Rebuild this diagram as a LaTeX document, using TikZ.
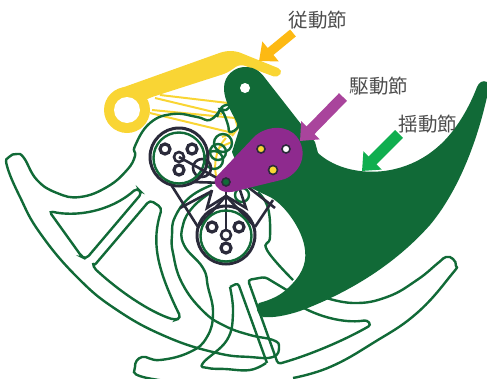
\documentclass[tikz,border=0pt]{standalone}
\usepackage{xcolor}
\usepackage{fontspec}
\setmainfont{Noto Sans CJK JP}
\usetikzlibrary{arrows.meta}
\definecolor{bodygreen}{HTML}{116A37}
\definecolor{leveryellow}{HTML}{F9D534}
\definecolor{crankpurple}{HTML}{8E2A8E}
\definecolor{linkdark}{HTML}{2A2A3A}
\definecolor{arrowyellow}{HTML}{FDB913}
\definecolor{arrowpurple}{HTML}{A9449C}
\definecolor{arrowgreen}{HTML}{10AE4F}

\begin{document}
\begin{tikzpicture}[x=1pt,y=-1pt,
        gline/.style={draw=bodygreen, line width=2.4pt},
        yline/.style={draw=leveryellow, line width=2pt},
        dline/.style={draw=linkdark, line width=2.6pt},
        ring/.style={draw=linkdark, line width=3.2pt, fill=white},
        lbl/.style={inner sep=0pt, text=black!70, font=\fontsize{19.5}{20}\selectfont},
        pointer/.style={line width=11pt, -{Triangle[width=25pt,length=15pt]}}
      ]
  \useasboundingbox (0,0) rectangle (487,378);
  \clip (0,0) rectangle (487,378);

  % follower
  \fill[leveryellow, rounded corners=5pt] (113,91) -- (225,51) -- (236,51) -- (283,70) -- (278,78)
        -- (240,64) -- (227,73) -- (149,98) -- (127,110) -- cycle;
  \fill[leveryellow] (127,110) circle (23);
  \fill[white] (127,110) circle (13);
  \draw[yline] (160,95) -- (228,103);
  \draw[yline] (155,98) -- (222,114);
  \draw[yline] (152,110) -- (235,118);
  \draw[yline] (150,113) -- (233,133);
  \draw[yline] (235,118) -- (238,128) -- (232,136);
  \draw[yline] (226,138) .. controls (214,150) and (212,172) .. (220,188);
  \draw[yline] (222,137) -- (233,133);
  \draw[yline] (220,147) -- (232,142);

  % wheel outlines
  \draw[gline] plot[smooth, tension=0.75] coordinates {(212,185) (190,197) (175,217) (172,235) (173,253)
        (182,283) (203,311) (225,326) (250,335) (273,340) (279,347) (273,357) (250,357) (217,353)
        (167,337) (117,310) (77,277) (40,233) (20,197) (7,166) (9,157) (17,154) (24,158) (37,180)
        (57,193) (80,197) (107,187) (127,170) (135,156) (135,146) (150,123) (173,114) (197,117)
        (210,120) (220,110)};
  \draw[gline] plot[smooth, tension=0.7] coordinates {(217,117) (222,107) (230,105) (226,110) (220,109)
        (224,114) (228,125) (230,132) (238,127) (238,117)};
  \draw[gline, rounded corners=4pt] (49,211) .. controls (75,217) and (110,212) .. (137,188)
        -- (142,193) -- (86,259) -- (82,257) -- cycle;
  \draw[gline, rounded corners=4pt] (93,267) -- (150,200) -- (162,208) .. controls (152,240) and (155,265) .. (181,318)
        -- (175,320) .. controls (150,312) and (120,292) .. (93,267) -- cycle;
  \draw[gline] plot[smooth, tension=0.75] coordinates {(210,193) (193,207) (183,225) (184,245)
        (203,268) (208,287) (213,313) (207,337) (190,352) (160,360) (142,357) (135,367)
        (143,377) (200,385)};
  \draw[gline] plot[smooth, tension=0.7] coordinates {(266,363) (250,370) (225,369) (208,368)
        (203,363) (227,340) (233,313) (230,287)};
  \draw[gline, rounded corners=3pt] (230,287) -- (238,283) -- (267,363);
  \draw[gline, rounded corners=3pt] (290,292) -- (265,277) -- (248,280) -- (278,364)
        .. controls (310,355) and (345,340) .. (371,325) -- (367,320) .. controls (350,323) and (325,320) .. (300,306);
  \draw[gline] plot[smooth, tension=0.75] coordinates {(320,296) (353,303) (387,297) (417,280)
        (438,263) (446,257) (453,259) (456,266) (452,274) (417,313) (373,343) (330,367) (293,378)};
  \draw[gline] plot[smooth, tension=0.75] coordinates {(258,192) (268,208) (270,237) (267,250) (293,280)};
  \foreach \x/\y/\r in {223/143/9, 218/152/8, 242/195/7, 214/160/9} {
    \draw[gline] (\x,\y) circle (\r);
  }

  % links
  \draw[dline] (170,183) -- (198,227);
  \draw[dline] (180,208) -- (212,191);
  \draw[dline] (193,182) -- (226,183);
  \draw[dline] (226,183) -- (226,235);
  \draw[dline] (226,196) -- (198,227);
  \draw[dline] (226,196) -- (255,227);
  \draw[dline] (255,227) -- (273,200);
  \draw[dline] (248,187) -- (275,208);
  \draw[dline] (212,190) -- (207,208) -- (226,196);
  \draw[dline] (240,190) -- (246,208) -- (226,196);
  \draw[dline] (202,168) circle (9);
  \foreach \cx/\cy in {179/157,226/235} {
    \draw[dline, line width=3pt] (\cx,\cy) circle (29);
    \draw[gline] (\cx,\cy+1) circle (25.5);
    \foreach \dx/\dy in {-14/-8, 13/-8, 0/13} {
      \draw[ring] (\cx+\dx,\cy+\dy) circle (5);
    }
    \draw[dline, fill=white] (\cx,\cy) circle (5);
  }
  \draw[dline] (179,157) -- (226,183);

  % rocker
  \fill[bodygreen] (224,88) .. controls (224,75) and (235,67) .. (245,67)
        .. controls (254,67) and (260,71) .. (265,78) -- (315,142) -- (318,153)
        .. controls (345,178) and (405,182) .. (445,140)
        .. controls (462,122) and (472,100) .. (477,87)
        .. controls (479,82) and (483,80) .. (487,82) -- (487,97)
        .. controls (475,150) and (455,195) .. (430,225)
        .. controls (390,270) and (340,296) .. (300,311)
        .. controls (285,316) and (272,318) .. (263,317)
        .. controls (257,316) and (255,306) .. (259,303)
        .. controls (270,300) and (280,296) .. (288,288)
        .. controls (300,277) and (307,265) .. (305,250)
        .. controls (303,230) and (285,205) .. (270,197)
        -- (245,185) -- (232,152) -- (239,130)
        .. controls (238,120) and (224,105) .. (224,88) -- cycle;
  \fill[white] (245,88) circle (5);

  % crank
  \fill[crankpurple] (217,176) -- (255,136) .. controls (268,125) and (288,125) .. (297,137)
        .. controls (307,150) and (304,170) .. (285,179)
        -- (240,190) .. controls (228,194) and (220,192) .. (216,186)
        .. controls (214,182) and (214,179) .. (217,176) -- cycle;
  \draw[ring, line width=1.6pt] (286,149) circle (4);
  \draw[ring, line width=1.6pt, fill=leveryellow] (261,149) circle (4);
  \draw[ring, line width=1.6pt, fill=leveryellow] (273,170) circle (4.5);
  \draw[ring, line width=1.6pt, fill=bodygreen] (226,182) circle (4);

  % labels
  \node[lbl] (follower) at (318,20) {従動節};
  \node[lbl] (driver) at (379,86) {駆動節};
  \node[lbl] (rocker) at (428,124) {揺動節};
  \coordinate (followerstart) at (293,33);
  \coordinate (followertip) at (259,61);
  \coordinate (driverstart) at (343,97);
  \coordinate (drivertip) at (300,141);
  \coordinate (rockerstart) at (399,134);
  \coordinate (rockertip) at (362,171);
  \draw[pointer, draw=arrowyellow, fill=arrowyellow, line width=9pt] (followerstart) -- (followertip);
  \draw[pointer, draw=arrowpurple, fill=arrowpurple] (driverstart) -- (drivertip);
  \draw[pointer, draw=arrowgreen, fill=arrowgreen] (rockerstart) -- (rockertip);
\end{tikzpicture}
\end{document}
